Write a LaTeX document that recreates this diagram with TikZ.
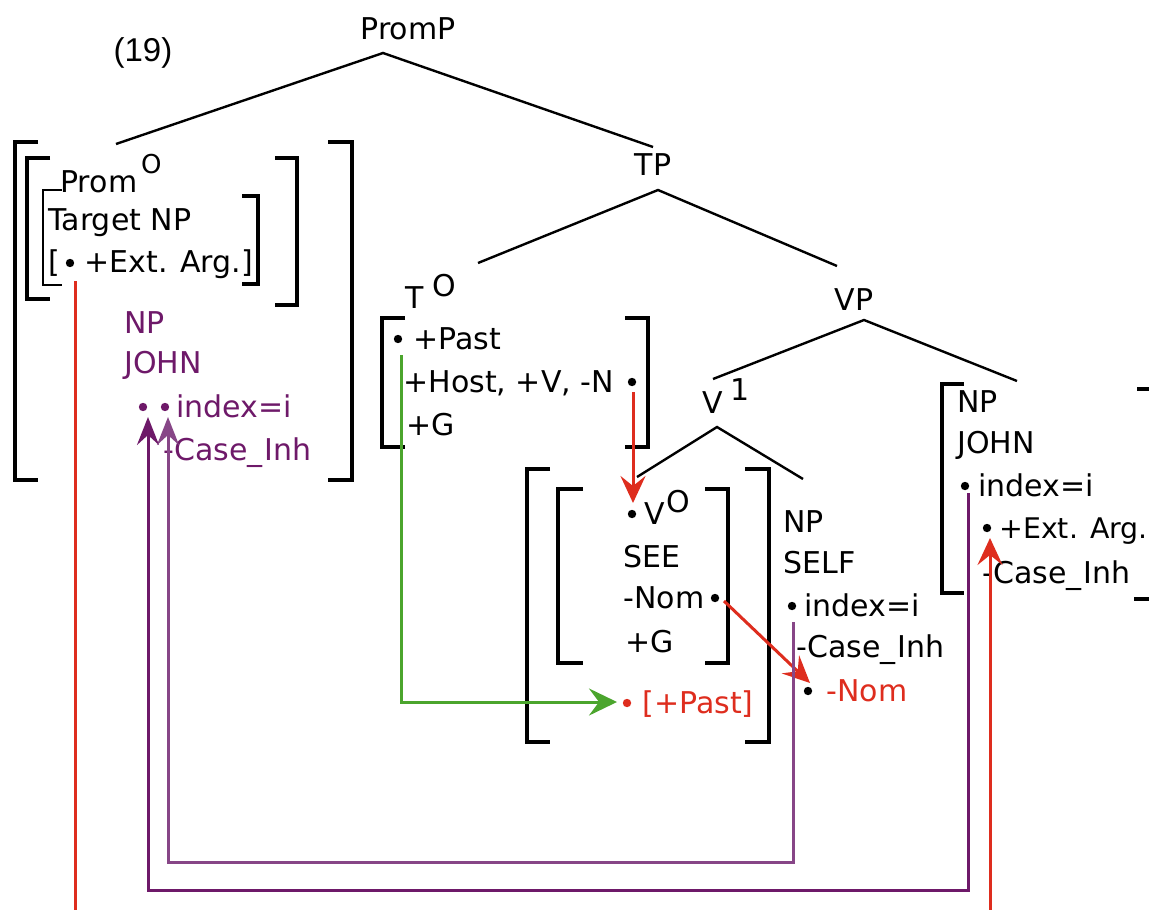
\documentclass[tikz,border=0pt]{standalone}
\usepackage{fontspec}
\setmainfont{DejaVu Sans}
\newfontfamily\helv{Liberation Sans}
\usetikzlibrary{arrows.meta}
\definecolor{myred}{RGB}{222,45,30}
\definecolor{mygreen}{RGB}{75,165,45}
\definecolor{mypurp}{RGB}{110,25,105}
\definecolor{mypurpl}{RGB}{135,70,135}
\begin{document}
\begin{tikzpicture}[x=0.5pt,y=-0.5pt,
  tx/.style={inner sep=0pt, anchor=west, text height=10.9pt, text depth=0pt, font=\fontsize{15}{18}\selectfont},
  tc/.style={tx, anchor=center},
  dot/.style={circle, fill, inner sep=0pt, minimum size=4.2pt},
  tree/.style={line width=1.2pt},
  brk/.style={line width=1.6pt},
  brkthin/.style={line width=1.1pt},
  redline/.style={myred, line width=1.5pt},
  redarr/.style={redline, -{Stealth[length=13.5pt,width=12.5pt,inset=5pt]}},
  greenarr/.style={mygreen, line width=1.5pt, -{Stealth[length=14pt,width=13.5pt,inset=5pt]}},
  purparr/.style={line width=1.5pt, -{Stealth[length=14pt,width=11pt,inset=5pt]}}
]
\useasboundingbox (0,0) rectangle (1149,909);
\clip (0,0) rectangle (1149,909);

% ---------- tree labels ----------
\node[inner sep=0pt, font=\helv\fontsize{16.5}{19}\selectfont] (num) at (143,53) {(19)};
\node[tc] (promp) at (408,29) {PromP};
\node[tc] (tp) at (653,165) {TP};
\node[tc] (vp) at (854,300) {VP};
\node[tx] (t0) at (405,298) {T\hspace{4.5pt}\raisebox{6pt}{O}};
\node[tx] (v1) at (702,403) {V\hspace{4pt}\raisebox{6.5pt}{1}};

% ---------- tree branches ----------
\coordinate (pA) at (383,53);  \coordinate (pL) at (116,144); \coordinate (pR) at (653,147);
\coordinate (tA) at (658,190); \coordinate (tL) at (478,263); \coordinate (tR) at (837,266);
\coordinate (vA) at (864,320); \coordinate (vL) at (713,379); \coordinate (vR) at (1017,381);
\coordinate (wA) at (717,427); \coordinate (wL) at (637,477); \coordinate (wR) at (803,479);
\draw[tree] (pL) -- (pA) -- (pR);
\draw[tree] (tL) -- (tA) -- (tR);
\draw[tree] (vL) -- (vA) -- (vR);
\draw[tree] (wL) -- (wA) -- (wR);

% ---------- brackets ----------
\draw[brk] (38,142) -- (15,142) -- (15,480) -- (38,480);
\draw[brk] (328,142) -- (352,142) -- (352,480) -- (328,480);
\draw[brk] (50,158) -- (27,158) -- (27,299) -- (50,299);
\draw[brk] (275,158) -- (297,158) -- (297,305) -- (275,305);
\draw[brkthin] (62,190) -- (43,190) -- (43,285) -- (62,285);
\draw[brk] (242,196) -- (258,196) -- (258,284) -- (242,284);
\draw[brk] (405,318) -- (382,318) -- (382,447) -- (405,447);
\draw[brk] (625,318) -- (648,318) -- (648,447) -- (625,447);
\draw[brk] (550,469) -- (527,469) -- (527,742) -- (550,742);
\draw[brk] (745,469) -- (769,469) -- (769,742) -- (745,742);
\draw[brk] (583,489) -- (558,489) -- (558,663) -- (583,663);
\draw[brk] (705,489) -- (728,489) -- (728,663) -- (705,663);
\draw[brk] (964,384) -- (942,384) -- (942,593) -- (964,593);
\draw[brk] (1137,389) -- (1155,389) -- (1155,599) -- (1134,599);

% ---------- Prom0 contents ----------
\node[tx] (prom) at (60,182) {Prom\hspace{2pt}\raisebox{9.5pt}{\fontsize{13}{13}\selectfont O}};
\node[tx] (target) at (48,220) {Target NP};
\node[tx] (lb) at (48,262) {[};
\node[dot] (dExt) at (70,263) {};
\node[tx] (ext) at (84,262) {+Ext. Arg.]};

\begin{scope}[mypurp]
\node[tx] (np1) at (124,323) {NP};
\node[tx] (john1) at (124,363) {JOHN};
\node[dot] (dA) at (143,407) {};
\node[dot] (dB) at (165,407) {};
\node[tx] (idx1) at (176,407) {index=i};
\node[tx] (case1) at (163,450) {-Case\_\kern1pt Inh};
\end{scope}

% ---------- T0 contents ----------
\node[dot] (dPast) at (398,339) {};
\node[tx] (past) at (413,339) {+Past};
\node[tx] (host) at (403,382) {+Host, +V, -N};
\node[dot] (dN) at (632,382) {};
\node[tx] (g1) at (406,425) {+G};

% ---------- V0 contents ----------
\node[dot] (dV) at (632,514) {};
\node[tx] (v0) at (644,514) {V\hspace{1pt}\raisebox{6pt}{O}};
\node[tx] (see) at (623,557) {SEE};
\node[tx] (nom) at (623,598) {-Nom};
\node[dot] (dNom) at (715,598) {};
\node[tx] (g2) at (625,642) {+G};
\node[dot, myred] (dPast2) at (627,703) {};
\node[tx, myred] (past2) at (642,703) {[+Past]};

% ---------- NP SELF ----------
\node[tx] (np2) at (783,522) {NP};
\node[tx] (self) at (783,563) {SELF};
\node[dot] (dIdx2) at (792,606) {};
\node[tx] (idx2) at (804,606) {index=i};
\node[tx] (case2) at (796,647) {-Case\_\kern1pt Inh};
\node[dot] (dNom2) at (808,691) {};
\node[tx, myred] (nom2) at (826,691) {-Nom};

% ---------- right NP JOHN ----------
\node[tx] (np3) at (957,402) {NP};
\node[tx] (john3) at (957,443) {JOHN};
\node[dot] (dIdx3) at (965,486) {};
\node[tx] (idx3) at (978,486) {index=i};
\node[dot] (dExt3) at (987,528) {};
\node[tx, font=\fontsize{14.2}{17}\selectfont] (ext3) at (999,528) {+Ext. Arg.};
\node[tx] (case3) at (982,573) {-Case\_\kern1pt Inh};

% ---------- connectors ----------
\coordinate (rl0) at (75,281); \coordinate (rl1) at (75,915);
\draw[redline] (rl0) -- (rl1);
\coordinate (rr0) at (990,915); \coordinate (rr1) at (990,538);
\draw[redarr] (rr0) -- (rr1);

\coordinate (g0) at (401,355); \coordinate (g1c) at (401,702); \coordinate (g2c) at (617,702);
\draw[greenarr] (g0) -- (g1c) -- (g2c);

\coordinate (rd0) at (633,392); \coordinate (rd1) at (633,503);
\draw[redarr] (rd0) -- (rd1);
\coordinate (rn0) at (724,601); \coordinate (rn1) at (810,683);
\draw[redarr] (rn0) -- (rn1);

\coordinate (pi0) at (793,622); \coordinate (pi1) at (793,862); \coordinate (pi2) at (168,862); \coordinate (pi3) at (168,417);
\draw[purparr, mypurpl] (pi0) -- (pi1) -- (pi2) -- (pi3);
\coordinate (po0) at (968,493); \coordinate (po1) at (968,890); \coordinate (po2) at (148,890); \coordinate (po3) at (148,417);
\draw[purparr, mypurp] (po0) -- (po1) -- (po2) -- (po3);
\end{tikzpicture}
\end{document}
